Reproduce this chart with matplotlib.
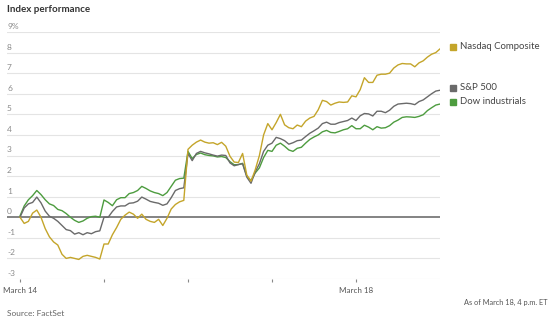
import numpy as np
import matplotlib
matplotlib.use("Agg")
import matplotlib.pyplot as plt
from matplotlib.transforms import blended_transform_factory

# ---- data: percent change, sampled every 0.05 trading day from March 14 open ----
step_days = 0.05
nasdaq = [0.0, -0.3, -0.2, 0.2, 0.35, 0.0, -0.55, -0.95, -1.2, -1.35,
          -1.8, -2.0, -1.95, -2.0, -2.05, -1.9, -1.85, -1.9, -1.95, -2.03,
          -1.3, -1.3, -0.85, -0.5, -0.1, 0.1, 0.25, 0.15, -0.05, 0.15,
          -0.1, -0.2, -0.25, -0.1, -0.4, -0.05, 0.4, 0.62, 0.75, 0.82,
          3.3, 3.5, 3.65, 3.75, 3.65, 3.6, 3.62, 3.53, 3.64, 3.45,
          2.96, 2.68, 2.66, 3.1, 2.05, 1.75, 2.3, 3.0, 4.0, 4.55,
          4.25, 4.6, 5.0, 4.49, 4.35, 4.3, 4.48, 4.4, 4.67, 4.82,
          4.9, 5.22, 5.68, 5.62, 5.45, 5.54, 5.6, 5.58, 5.6, 5.9,
          5.85, 6.2, 6.78, 6.55, 6.55, 6.9, 6.95, 6.95, 7.0, 7.25,
          7.4, 7.47, 7.45, 7.45, 7.31, 7.5, 7.6, 7.78, 7.92, 8.0,
          8.18]
sp500 = [0.0, 0.45, 0.65, 0.72, 0.98, 0.7, 0.3, 0.05, -0.05, -0.2,
         -0.4, -0.6, -0.65, -0.82, -0.75, -0.85, -0.75, -0.8, -0.7, -0.66,
         0.0, 0.0, 0.28, 0.5, 0.55, 0.55, 0.68, 0.7, 0.78, 0.98,
         0.88, 0.77, 0.72, 0.68, 0.58, 0.65, 0.95, 1.3, 1.39, 1.43,
         3.1, 2.75, 3.1, 3.2, 3.13, 3.08, 3.02, 2.97, 3.02, 3.0,
         2.64, 2.5, 2.56, 2.6, 1.95, 1.65, 2.2, 2.6, 3.2, 3.5,
         3.6, 3.88, 3.82, 3.72, 3.55, 3.62, 3.72, 3.75, 3.92, 4.08,
         4.2, 4.33, 4.55, 4.62, 4.52, 4.52, 4.6, 4.65, 4.7, 4.82,
         4.7, 4.93, 5.04, 5.02, 4.92, 5.15, 5.15, 5.08, 5.2, 5.39,
         5.5, 5.52, 5.54, 5.52, 5.47, 5.62, 5.7, 5.85, 6.0, 6.13,
         6.17]
dow = [0.06, 0.55, 0.85, 1.05, 1.3, 1.1, 0.85, 0.65, 0.57, 0.38,
       0.32, 0.18, 0.0, -0.15, -0.25, -0.18, -0.05, 0.03, 0.05, 0.0,
       0.84, 0.72, 0.56, 0.85, 0.95, 0.95, 1.15, 1.2, 1.3, 1.5,
       1.4, 1.28, 1.2, 1.15, 1.05, 1.2, 1.5, 1.8, 1.88, 1.9,
       3.2, 2.85, 3.05, 3.12, 3.04, 3.0, 2.98, 2.93, 2.95, 2.9,
       2.7, 2.55, 2.56, 2.62, 2.0, 1.78, 2.15, 2.4, 2.9, 3.25,
       3.2, 3.5, 3.6, 3.45, 3.27, 3.2, 3.35, 3.4, 3.6, 3.78,
       3.9, 4.0, 4.15, 4.22, 4.12, 4.1, 4.17, 4.25, 4.3, 4.45,
       4.3, 4.3, 4.47, 4.38, 4.25, 4.4, 4.33, 4.35, 4.45, 4.62,
       4.72, 4.85, 4.88, 4.87, 4.85, 4.9, 4.98, 5.18, 5.32, 5.45,
       5.5]

series_names = ["Nasdaq Composite", "S&P 500", "Dow industrials"]
series_colors = ["#c4a52a", "#6a6a6a", "#4d9c3f"]
day_labels = ["March 14", "", "", "", "March 18"]
y_ticks = [9, 8, 7, 6, 5, 4, 3, 2, 1, 0, -1, -2, -3]
y_tick_labels = ["9%", "8", "7", "6", "5", "4", "3", "2", "1", "0", "-1", "-2", "-3"]

plt.rcParams['font.family'] = ['Lato', 'DejaVu Sans']

fig = plt.figure(figsize=(5.5, 3.2), dpi=100)
W, H = 550, 320
ax = fig.add_axes([7 / W, 1 - 279 / H, (440 - 7) / W, (279 - 32) / H])

t = np.arange(len(nasdaq)) * step_days

# gridlines
for v in y_ticks:
    if v == 0:
        continue
    ax.axhline(v, color="#e4e4e4", lw=0.8, zorder=0)
ax.axhline(0, color="#7a7a7a", lw=1.3, zorder=1)

data = [nasdaq, sp500, dow]
for vals, col, z in zip(data[::-1], series_colors[::-1], [2, 3, 4]):
    ax.plot(t, vals, color=col, lw=1.0, zorder=z, solid_joinstyle='round')

ax.set_xlim(-13 / 84, 5.0)
ax.set_ylim(-3, 9)
for s in ax.spines.values():
    s.set_visible(False)
ax.set_yticks([])
ax.set_xticks(range(len(day_labels)))
ax.set_xticklabels(day_labels, fontsize=5.8, color="#555555")
ax.tick_params(axis='x', length=2, width=0.8, color="#888888", pad=4)

# y labels above gridlines at left
trans = blended_transform_factory(ax.transAxes, ax.transData)
for v, lab in zip(y_ticks, y_tick_labels):
    ax.text(0.0, v + 0.1, lab, transform=trans, fontsize=6, color="#8a8a8a",
            ha='left', va='bottom')

# legend labels at line ends
ends = [nasdaq[-1], sp500[-1], dow[-1]]
pos = list(ends)
order = np.argsort(pos)
min_gap = 0.68
for k in range(1, len(order)):
    lo, hi = order[k - 1], order[k]
    if pos[hi] - pos[lo] < min_gap:
        pos[hi] = pos[lo] + min_gap
mx = (453.5 - 20) / 84
tx = (460 - 20) / 84
for name, col, y in zip(series_names, series_colors, pos):
    ax.plot([mx], [y + 0.1], marker='s', ms=4.3, color=col, clip_on=False,
            linestyle='none')
    ax.text(tx, y + 0.1, name, fontsize=6.9, color="#444444", ha='left',
            va='center', clip_on=False)

fig.text(7 / W, 1 - 9 / H, "Index performance", fontsize=7,
         fontweight='bold', color="#333333", ha='left', va='center')
fig.text(7 / W, 1 - 313 / H, "Source: FactSet", fontsize=6,
         color="#666666", ha='left', va='center')
fig.text(547 / W, 1 - 302 / H, "As of March 18, 4 p.m. ET", fontsize=5.3,
         color="#555555", ha='right', va='center')

fig.savefig("out.png", dpi=100)
